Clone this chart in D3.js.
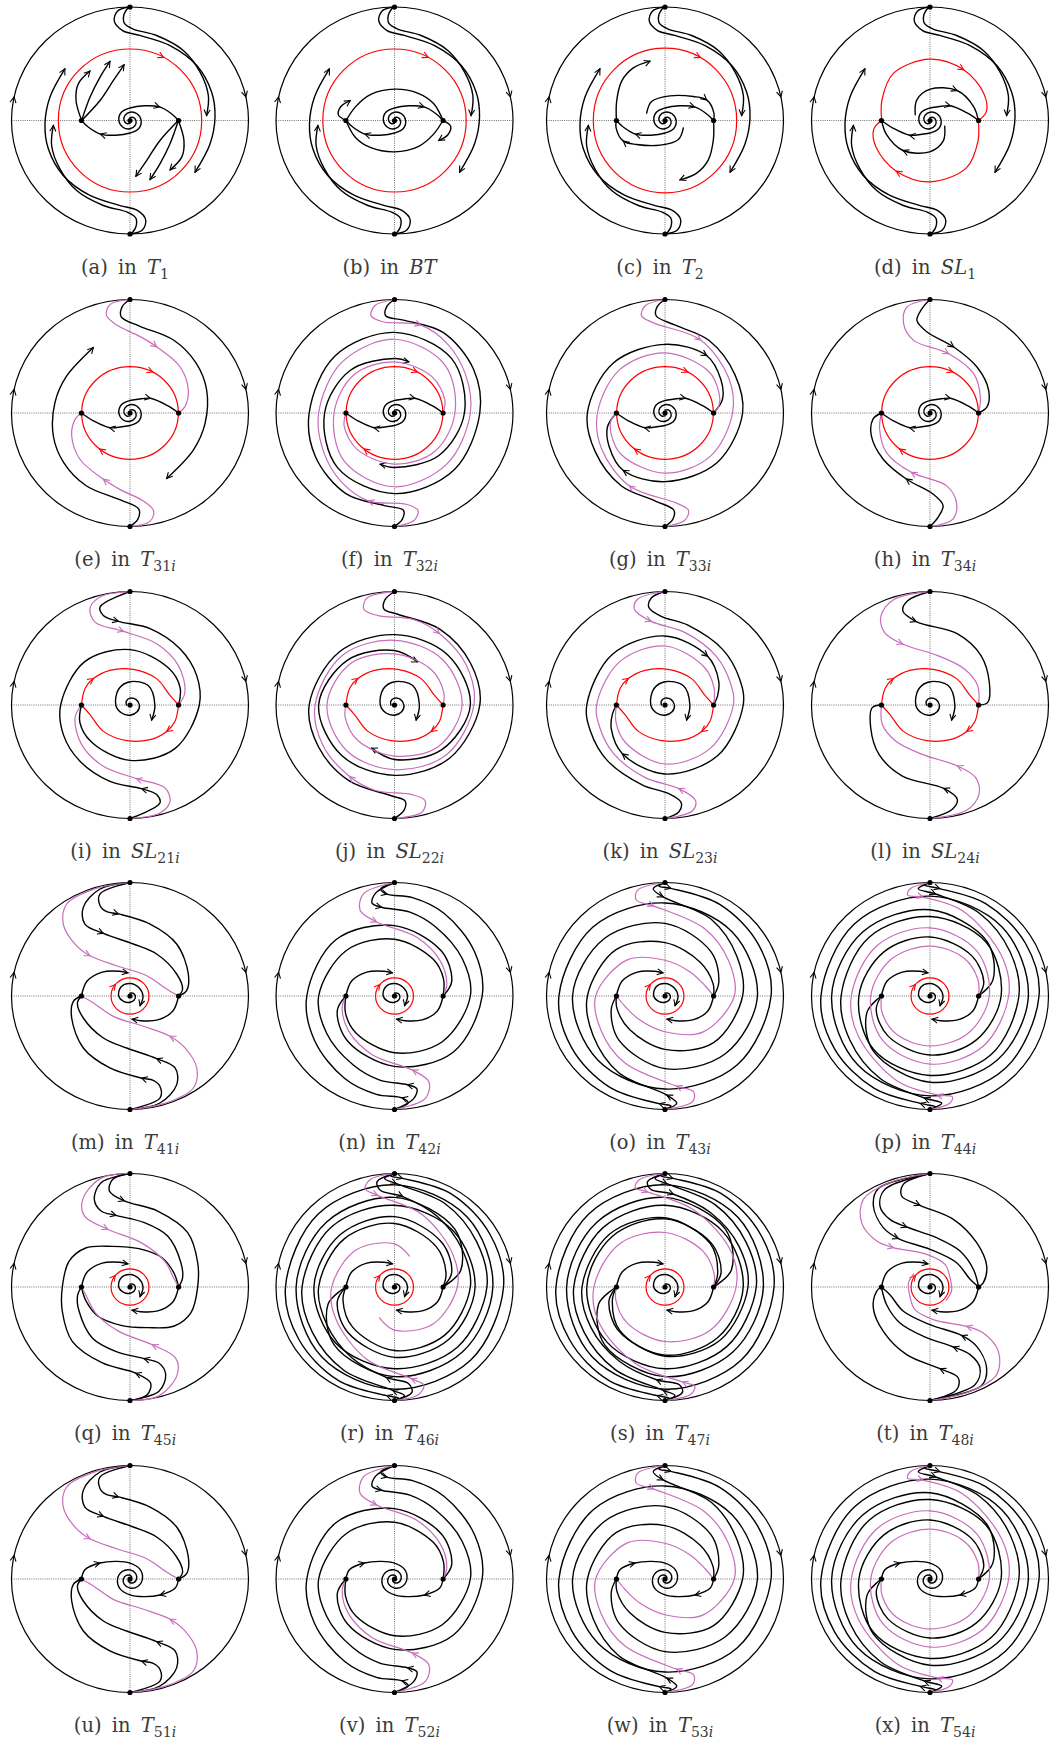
<!DOCTYPE html>
<html>
<head>
<meta charset="utf-8">
<script src="https://cdn.jsdelivr.net/npm/d3@7"></script>
<style>
  body { margin: 0; background: #fff; }
  .axis { stroke: #444; stroke-width: 0.75; stroke-dasharray: 1 1.2; }
  .rim { fill: none; stroke: #000; stroke-width: 1.2; }
  .lbl { font-family: "DejaVu Serif", serif; font-size: 19.5px; fill: #3a3a3a; word-spacing: 4px; white-space: pre; }
</style>
</head>
<body>
<svg id="fig"></svg>
<script>
// panel captions
const panelTags = ['a','b','c','d','e','f','g','h','i','j','k','l','m','n','o','p','q','r','s','t','u','v','w','x'];
const panelNames = ['T','BT','T','SL','T','T','T','T','SL','SL','SL','SL','T','T','T','T','T','T','T','T','T','T','T','T'];
const panelSubs = ['1','','2','1','31i','32i','33i','34i','21i','22i','23i','24i','41i','42i','43i','44i','45i','46i','47i','48i','51i','52i','53i','54i'];

// singular points on the Poincare disc, [angle deg, radius %]
const singular = [[90,100],[270,100],[0,0],[180,41],[0,41]];
const rimArrowAngles = [12, 168];

// orbits as [angle deg, radius %] samples;
// every orbit is also drawn turned by 180 degrees unless solo
const core = [[450,2.5],[405,3.8],[360,5],[315,6.2],[270,7.3],[225,8.4],[180,9.4],[135,10.3],[90,11]];
const armA = core.concat([[47,17.7],[25.6,27.7],[9.7,35.5],[0,41]]);
const armD = core.concat([[60,14],[37,21.5],[12,32],[0,41]]);
const armU = [[180,41],[167.8,38.9],[150.9,29],[125.9,19.2],[90,14],[45,12],[0,10.5],[-45,9.3],[-90,8],[-135,6.8],[-180,5.6],[-225,4.4],[-270,3.3],[-315,2.2]];
const spiralI = [[540,3],[495,4.5],[450,6],[405,7],[360,8],[315,8.5],[270,9],[225,10],[180,12],[124,17],[90,20.5],[48,23],[0,21],[-36,22.6]];
const spiralM = [[450,2.5],[405,3.5],[360,4.5],[315,5],[270,5.5],[225,7],[180,9.5],[135,11],[90,11],[45,10.5],[0,11],[-45,12]];
const nodeIn = [[180,41],[160,38.5],[138,31.5],[112,23.5],[95,20.5]];

const tubeOuter = [[90.6,100],[96.3,96.9],[98.6,88.5],[94.5,79.5],[83.6,75.4],[62.9,74.2],[40.7,74.3],[19.9,73.3],[2.3,71.8],[-17,70.6],[-39.6,71.3]];
const tubeInner = [[90.6,100],[93.1,93.5],[93.2,85.9],[88.4,80.8],[73.3,78.2],[53.9,76.4],[35.8,72.9],[18.4,69.7],[3.9,64.8]];

const fanA1 = [[180,40.8],[158.9,48.8],[143.5,54.3],[127.8,55.1]];
const fanA2 = [[180,40.8],[148.8,39.5],[123.5,45.8],[108,54.7]];
const fanA3 = [[180,40.8],[145.2,30.8],[111.6,38],[95.8,49.3]];
const eyeB = [[180,40.8],[160,35.1],[131,30.5],[90,27.6],[50.2,31.2],[24.4,36.2],[0,41]];
const hookB = [[180,40.8],[174,47.6],[164.8,46.9],[154.8,41.3]];
const arcC = [[157.2,16.8],[124.1,20.2],[79,22.1],[41.4,31.9],[27.3,39.6],[8.9,41.8],[0,41]];
const dropC = [[0,41],[-22.6,44.2],[-43.5,50.4],[-60,53.5],[-76.4,53.8]];
const arcD = [[158,13.4],[121.9,21.2],[89.4,27.6],[49.2,34.9],[18.5,38.8],[0,40.8]];
const loopD = [[180,40.8],[155.8,44.4],[126.4,51.8],[90,54],[57.5,52.9],[28,51.3],[9.4,48.2],[0,41]];
const loopI = [[180,41],[159,40.6],[143,38.7],[119,34.9],[85,31.5],[46,32.3],[14,34.8],[0,41]];

const eBlack = [[90,100],[94,94],[95,85],[84,77],[60,74],[38,71],[17.4,67.8],[-8.2,64],[-31.4,62.6],[-61.8,65.4]];
const ePink = [[90,100],[100,97],[103,88.5],[98,78],[83,68],[69,62.6],[44,58.7],[22.4,53.2],[6.9,46.7],[0,41]];
const fBlack = [[90,100],[94,94],[95,86],[84,82],[60,82],[30,77],[0,72],[-45,71],[-90,71],[-135,68],[-180,59],[-225,53],[-270,48],[-285,46.7]];
const fPink = [[90,100],[100,96],[103,88],[97,81],[74,80.5],[54,75.6],[30,69],[0,64],[-45,63],[-90,65],[-135,60],[-180,51],[-225,48],[-270,45],[-315,45],[-345,44],[-360,41]];
const gBlack = [[90,100],[94,94],[95,86],[84,78],[60,74],[30,68],[0,65.5],[-45,62],[-90,60.5],[-125,61.6],[-148,55.6],[-166,50],[-180,41]];
const gPink = [[90,100],[100,96],[103,88],[97,80],[65,71],[30,62],[0,57],[-45,54],[-90,53],[-135,52],[-158,49],[-172,46],[-180,41]];
const hBlack = [[90,100],[94.2,92.2],[97.7,82.3],[92,71.4],[71,61.5],[45.6,56.7],[22,53.4],[6.3,48.4],[0,41]];
const hPink = [[90,100],[101.7,95.4],[105.8,81.8],[102.2,65.5],[73.2,54.6],[43.2,50.6],[18.4,44.8],[0,41]];

const iBlack = [[90,100],[106.3,90],[105.9,82.1],[97.6,74.4],[75.9,69.4],[49.6,65.1],[24.9,62],[0,58.5],[-45,54],[-90,48.8],[-135,46],[-160,45],[-180,41]];
const iPink = [[90,100],[104.9,98.5],[111.7,91.4],[112,78.8],[94.9,65.1],[67.4,58.5],[40.6,53.7],[13.9,47.8],[0,41]];
const jBlack = [[90,100],[95,93],[96,85],[88,80],[60,77],[30,74],[0,72],[-45,66],[-90,62],[-135,63],[-180,64],[-225,56],[-270,48],[-297,42.7]];
const jPink = [[90,100],[104,97],[107,88],[100,80],[78,77],[59,73.5],[30,70],[0,67],[-45,62],[-90,57],[-135,57],[-180,57],[-225,52],[-270,45],[-315,44],[-345,43],[-360,41]];
const kBlack = [[90,100],[97,95],[99,87],[92,78],[75,73],[45,69],[20,67],[0,66],[-45,63],[-90,60.8],[-130,56],[-155,50],[-170,45],[-180,41]];
const kPink = [[90,100],[104,96],[107,88],[99,74.6],[75,66],[45,61],[20,58.5],[0,57.7],[-45,54],[-90,52],[-135,47],[-160,44],[-180,41]];
const lBlack = [[90,100],[101.6,93.8],[105.5,86.2],[99,74.4],[69.6,66.8],[45.3,61.2],[21.8,53.9],[2.7,48.8],[0,41]];
const lPink = [[90,100],[107.9,98],[117.7,88.9],[121,74.7],[113.3,58.5],[81.5,44],[47.5,43],[22.9,43.7],[0,41]];

const mBlack1 = [[90,100],[105,97.6],[116.8,87.5],[121,73.9],[112.2,59.6],[86.5,45.9],[58.7,43.3],[26.2,43.9],[7.9,44.8],[0,41]];
const mBlack2 = [[90,100],[105.7,93.4],[107.6,83.5],[104.8,76.9],[97.7,73],[75,65.6],[49.3,60.4],[21.5,52.9],[5.6,48],[0,41]];
const mPink = [[90,100],[107.6,99],[123.4,97.1],[131.6,84.8],[135.4,65.2],[133.6,49],[113,29],[51.8,22.8],[11.3,31.5],[0,41]];
const nBlack1 = [[90,100],[97,95],[94,90],[80,88],[60,84],[30,78],[0,74],[-45,70],[-90,62],[-135,56],[-165,50],[-180,41]];
const nBlack2 = [[90,100],[100,92],[103,84],[98,79],[80,75],[60,70],[30,66],[0,64],[-45,57],[-90,50],[-135,46],[-160,44],[-180,41]];
const nPink = [[90,100],[106,94],[111,81],[103,67],[70,55],[39,49.5],[13.5,45.4],[0,41]];
const oBlack1 = [[90,100],[93,97],[87,95],[60,93],[30,91],[0,89.5],[-45,86],[-90,82],[-135,80],[-180,78],[-225,72],[-270,64],[-315,55],[-345,47],[-360,41]];
const oBlack2 = [[90,100],[96,95],[91,87.3],[60,78],[30,70],[0,65.5],[-45,58],[-90,47],[-135,42],[-165,42],[-180,41]];
const oPink = [[90,100],[104,96],[106,88],[97,80],[60,68],[30,62],[0,58.5],[-45,45],[-90,31.5],[-135,30],[-165,35],[-180,41]];
const pBlack1 = [[90,100],[93,98],[85,95],[60,94],[30,93],[0,92],[-45,90],[-90,88],[-135,86],[-180,83],[-225,80],[-270,76],[-315,68],[-345,55],[-360,41]];
const pBlack2 = [[90,100],[96,95],[87,90],[60,84],[30,78],[0,75],[-45,73],[-90,70],[-135,67],[-180,60],[-225,55],[-270,52],[-315,50],[-345,47],[-360,41]];
const pPink = [[90,100],[100,96],[102,91],[94,87.4],[70,80],[30,70],[0,66.4],[-45,63],[-90,60],[-135,56],[-180,50],[-225,46],[-270,44],[-310,44],[-340,43],[-360,41]];
const qBlack1 = [[90,100],[104.9,95.1],[111.3,82.9],[110,71.3],[100.6,64.2],[78,58],[54.7,55],[26.5,48],[10,45],[0,41]];
const qBlack2 = [[90,100],[98.7,96],[101.6,86.4],[93.6,76],[70.8,70.9],[44.5,68.3],[20.5,61],[0,57.1],[-23.7,56.2],[-42.6,50.8],[-67.4,38.8],[-102.7,34.6],[-136.8,37.4],[-161.7,39.1],[-180,41]];
const qPink = [[90,100],[104.3,99],[117.3,86.9],[121.6,73.5],[110.3,54.2],[76.6,40.2],[38.3,37],[10.3,38],[0,41]];
const rBlack1 = [[90,100],[92,98],[86,96],[60,95],[30,93],[0,92],[-45,91],[-90,90],[-135,87],[-180,83],[-225,81],[-270,79],[-315,72],[-345,58],[-360,41]];
const rBlack2 = [[90,100],[95,96],[89,91],[60,85],[30,80],[0,78],[-45,75],[-90,72],[-135,70],[-180,68],[-225,65],[-270,62],[-315,56],[-345,50],[-360,41]];
const rBlack3 = [[90,100],[99,94],[98,86],[85,80],[60,72],[30,66],[0,64],[-45,60],[-90,56],[-135,50],[-165,45],[-180,41]];
const rPink = [[90,100],[102,97],[106,90],[100,82],[70,68],[30,57],[0,53],[-45,46],[-90,38],[-115,30]];
const sBlack2 = [[90,100],[95,96],[89,91],[60,84],[30,79],[0,77],[-45,74],[-90,72],[-135,69],[-180,66],[-225,63],[-270,60],[-315,55],[-345,49],[-360,41]];
const sBlack3 = [[90,100],[99,94],[98,87],[85,82],[60,76],[30,72],[0,70],[-45,66],[-90,61],[-135,54],[-165,46],[-180,41]];
const sPink = [[90,100],[103,97],[106,91],[100,85],[70,72],[30,64],[0,60],[-45,54],[-90,48],[-135,45],[-165,43],[-180,41]];
const tBlack1 = [[90,100],[104,93.2],[106.6,83.7],[96.7,72.5],[71.7,62.8],[44.8,55.5],[21.2,51.3],[4.8,45.2],[0,41]];
const tBlack2 = [[90,100],[113.8,94.1],[120.6,82.9],[119.6,68.5],[110.4,56.4],[82.7,43.8],[51.4,40.6],[23.1,39.8],[0,41]];
const tBlack3 = [[90,100],[116.8,97],[123.8,85.9],[127,65.5],[122,50.3],[90,33.2],[43.6,31],[11.4,34.5],[0,41]];
const tPink = [[90,100],[110,98],[126.1,95.5],[135.5,80.9],[138,60.5],[131.7,46.5],[95.6,28.9],[57.6,23.7],[25.9,18.8],[-10,18.5],[-40,18]];

// per-panel orbit lists: k = black / r = red / p = pink, a = arrow vertices
const armTip = core.length + 1;
const curvesA = [{k:'r', ring:[60.5,63], a:[62]}, {k:'k', p:tubeOuter, a:[-1]}, {k:'k', p:tubeInner, a:[-1]}, {k:'k', p:armA, a:[armTip]}, {k:'k', p:fanA1, a:[-1]}, {k:'k', p:fanA2, a:[-1]}, {k:'k', p:fanA3, a:[-1]}];
const curvesB = [{k:'r', ring:[60.5,63], a:[62]}, {k:'k', p:tubeOuter, a:[-1]}, {k:'k', p:tubeInner, a:[-1]}, {k:'k', p:armA, a:[armTip]}, {k:'k', p:eyeB, a:[]}, {k:'k', p:hookB, a:[-1]}];
const curvesC = [{k:'r', ring:[60.5,63.7], a:[60.5]}, {k:'k', p:tubeOuter, a:[-1]}, {k:'k', p:tubeInner, a:[-1]}, {k:'k', p:armA, a:[armTip]}, {k:'k', p:arcC, a:[4]}, {k:'k', p:dropC, a:[-1]}];
const curvesD = [{k:'r', p:loopD, a:[4]}, {k:'k', p:tubeOuter, a:[-1]}, {k:'k', p:tubeInner, a:[-1]}, {k:'k', p:armD, a:[armTip]}, {k:'k', p:arcD, a:[3]}];
const curvesE = [{k:'r', ring:[40.8,40.8], a:[62,231]}, {k:'k', p:armD, a:[armTip]}, {k:'k', p:eBlack, a:[-1]}, {k:'p', p:ePink, a:[5]}];
const curvesF = [{k:'r', ring:[40.8,40.8], a:[62,231]}, {k:'k', p:armD, a:[armTip]}, {k:'k', p:fBlack, a:[-1]}, {k:'p', p:fPink, a:[4]}];
const curvesG = [{k:'r', ring:[40.8,40.8], a:[62,231]}, {k:'k', p:armD, a:[armTip]}, {k:'k', p:gBlack, a:[9]}, {k:'p', p:gPink, a:[4]}];
const curvesH = [{k:'r', ring:[40.8,40.8], a:[62,231]}, {k:'k', p:armD, a:[armTip]}, {k:'k', p:hBlack, a:[4]}, {k:'p', p:hPink, a:[4]}];
const curvesI = [{k:'r', p:loopI, a:[2]}, {k:'k', p:spiralI, a:[-1], solo:true}, {k:'k', p:iBlack, a:[3]}, {k:'p', p:iPink, a:[4]}];
const curvesJ = [{k:'r', p:loopI, a:[2]}, {k:'k', p:spiralI, a:[-1], solo:true}, {k:'k', p:jBlack, a:[-1]}, {k:'p', p:jPink, a:[5]}];
const curvesK = [{k:'r', p:loopI, a:[2]}, {k:'k', p:spiralI, a:[-1], solo:true}, {k:'k', p:kBlack, a:[10]}, {k:'p', p:kPink, a:[3]}];
const curvesL = [{k:'r', p:loopI, a:[2]}, {k:'k', p:spiralI, a:[-1], solo:true}, {k:'k', p:lBlack, a:[3]}, {k:'p', p:lPink, a:[4]}];
const centreM = [{k:'r', ring:[16,16], a:[140]}, {k:'k', p:spiralM, a:[-1], solo:true}, {k:'k', p:nodeIn, a:[-1]}];
const centreU = [{k:'k', p:armU, a:[2]}];
const outerM = [{k:'k', p:mBlack1, a:[4]}, {k:'k', p:mBlack2, a:[4]}, {k:'p', p:mPink, a:[5]}];
const outerN = [{k:'k', p:nBlack1, a:[2]}, {k:'k', p:nBlack2, a:[3]}, {k:'p', p:nPink, a:[3]}];
const outerO = [{k:'k', p:oBlack1, a:[2]}, {k:'k', p:oBlack2, a:[2]}, {k:'p', p:oPink, a:[3]}];
const outerP = [{k:'k', p:pBlack1, a:[2]}, {k:'k', p:pBlack2, a:[2]}, {k:'p', p:pPink, a:[3]}];
const outerQ = [{k:'k', p:qBlack1, a:[4]}, {k:'k', p:qBlack2, a:[3]}, {k:'p', p:qPink, a:[4]}];
const outerR = [{k:'k', p:rBlack1, a:[2]}, {k:'k', p:rBlack2, a:[2]}, {k:'k', p:rBlack3, a:[3]}, {k:'p', p:rPink, a:[3]}];
const outerS = [{k:'k', p:rBlack1, a:[2]}, {k:'k', p:sBlack2, a:[2]}, {k:'k', p:sBlack3, a:[3]}, {k:'p', p:sPink, a:[3]}];
const outerT = [{k:'k', p:tBlack1, a:[3]}, {k:'k', p:tBlack2, a:[4]}, {k:'k', p:tBlack3, a:[4]}, {k:'p', p:tPink, a:[5]}];

const panelCurves = [
  curvesA, curvesB, curvesC, curvesD,
  curvesE, curvesF, curvesG, curvesH,
  curvesI, curvesJ, curvesK, curvesL,
  centreM.concat(outerM), centreM.concat(outerN), centreM.concat(outerO), centreM.concat(outerP),
  centreM.concat(outerQ), centreM.concat(outerR), centreM.concat(outerS), centreM.concat(outerT),
  centreU.concat(outerM), centreU.concat(outerN), centreU.concat(outerO), centreU.concat(outerP)
];

// layout
const W = 1054, H = 1741;
const colCx = [130, 394.5, 665, 930];
const rowCy = [120.5, 413, 705, 996, 1287, 1579];
const RX = 118.5, RY = 113.5;
const colors = {k: '#000', r: '#ff0000', p: '#c86cbc'};
const widths = {k: 1.4, r: 1.2, p: 1.2};

const svg = d3.select('#fig').attr('width', W).attr('height', H);
const rad = d => d * Math.PI / 180;
const turn = ([t, r]) => [t + 180, r];
const line = d3.line().curve(d3.curveCatmullRom.alpha(0.5));

function head(g, from, tip, col) {
  const ang = Math.atan2(tip[1] - from[1], tip[0] - from[0]);
  const L = 6.5, w = 0.48;
  const p1 = [tip[0] - L * Math.cos(ang - w), tip[1] - L * Math.sin(ang - w)];
  const p2 = [tip[0] - L * Math.cos(ang + w), tip[1] - L * Math.sin(ang + w)];
  g.append('path')
    .attr('d', `M${p1}L${tip}L${p2}`)
    .attr('fill', 'none')
    .attr('stroke', col)
    .attr('stroke-width', 1.1);
}

panelTags.forEach((tag, i) => {
  const cx = colCx[i % 4], cy = rowCy[Math.floor(i / 4)];
  const x = d3.scaleLinear().domain([-100, 100]).range([cx - RX, cx + RX]);
  const y = d3.scaleLinear().domain([-100, 100]).range([cy + RY, cy - RY]);
  const P = ([t, r]) => [x(r * Math.cos(rad(t))), y(r * Math.sin(rad(t)))];
  const E = (ru, rv, t) => [x(ru * Math.cos(rad(t))), y(rv * Math.sin(rad(t)))];
  const g = svg.append('g');

  g.append('line').attr('class', 'axis')
    .attr('x1', x(-100)).attr('x2', x(100)).attr('y1', y(0)).attr('y2', y(0));
  g.append('line').attr('class', 'axis')
    .attr('x1', x(0)).attr('x2', x(0)).attr('y1', y(-100)).attr('y2', y(100));

  g.append('ellipse').attr('class', 'rim')
    .attr('cx', x(0)).attr('cy', y(0))
    .attr('rx', x(100) - x(0)).attr('ry', y(0) - y(100));
  rimArrowAngles.forEach(t => head(g, E(100, 100, t + 4), E(100, 100, t), '#000'));

  panelCurves[i].forEach(c => {
    const col = colors[c.k];
    if (c.ring) {
      g.append('ellipse')
        .attr('cx', x(0)).attr('cy', y(0))
        .attr('rx', x(c.ring[0]) - x(0)).attr('ry', y(0) - y(c.ring[1]))
        .attr('fill', 'none').attr('stroke', col).attr('stroke-width', widths[c.k]);
      c.a.forEach(t => head(g, E(c.ring[0], c.ring[1], t + 5), E(c.ring[0], c.ring[1], t), col));
      return;
    }
    const copies = c.solo ? [c.p] : [c.p, c.p.map(turn)];
    copies.forEach(pts => {
      const s = pts.map(P);
      g.append('path')
        .attr('d', line(s))
        .attr('fill', 'none')
        .attr('stroke', col)
        .attr('stroke-width', widths[c.k])
        .attr('stroke-linecap', 'round');
      (c.a || []).forEach(j0 => {
        const j = j0 < 0 ? s.length + j0 : j0;
        const a = s[Math.max(j - 1, 0)], b = s[Math.min(j + 1, s.length - 1)];
        const dir = [b[0] - a[0], b[1] - a[1]];
        const n = Math.hypot(dir[0], dir[1]) || 1;
        head(g, [s[j][0] - dir[0] / n * 5, s[j][1] - dir[1] / n * 5], s[j], col);
      });
    });
  });

  singular.forEach(d => {
    const q = P(d);
    g.append('circle').attr('cx', q[0]).attr('cy', q[1]).attr('r', 2.6).attr('fill', '#000');
  });

  const t = g.append('text').attr('class', 'lbl')
    .attr('x', cx - 5).attr('y', cy + 153)
    .attr('text-anchor', 'middle');
  t.append('tspan').text(`(${tag})`);
  t.append('tspan').text(' in ');
  t.append('tspan').attr('font-style', 'italic').text(panelNames[i]);
  const sub = panelSubs[i];
  if (sub) {
    t.append('tspan').attr('dy', 5).attr('font-size', 14).text(sub.replace('i', ''));
    if (sub.endsWith('i')) t.append('tspan').attr('font-size', 14).attr('font-style', 'italic').text('i');
  }
});
</script>
</body>
</html>
